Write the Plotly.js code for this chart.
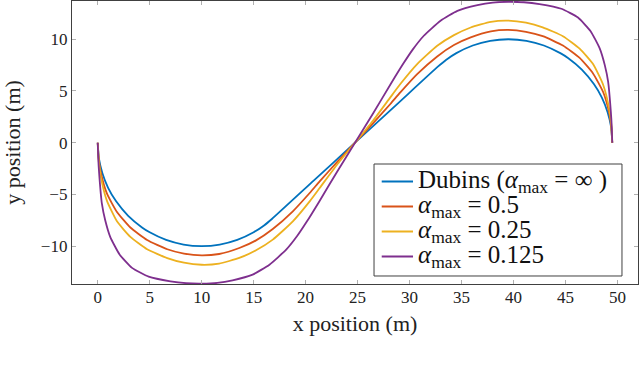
<!DOCTYPE html>
<html>
<head>
<meta charset="utf-8">
<script src="https://cdn.plot.ly/plotly-3.0.1.min.js"></script>
<style>
  html, body { margin: 0; padding: 0; background: #fff; }
  #chart { width: 640px; height: 365px; }
</style>
</head>
<body>
<div id="chart"></div>
<script>
// Path coordinates (metres)
const dubinsX = [0, 0.11, 0.45, 1.0, 1.77, 2.93, 4.26, 5.0, 6.58, 8.26, 10, 11.74, 13.42, 15.0, 16.0, 16.78, 20.8, 24.75,
    28.7, 32.72, 33.5, 34.5, 36.08, 37.76, 39.5, 41.24, 42.92, 44.5, 45.24, 46.57, 47.73, 48.5, 49.05, 49.39, 49.5];
const dubinsY = [0, -1.5, -2.95, -4.36, -5.67, -7.07, -8.19, -8.66, -9.4, -9.85, -10, -9.85, -9.4, -8.66, -8.0, -7.35, -3.64, 0,
    3.64, 7.35, 8.0, 8.66, 9.4, 9.85, 10, 9.85, 9.4, 8.66, 8.19, 7.07, 5.67, 4.36, 2.95, 1.5, 0];

const alpha05X = [0, 0.1, 0.3, 0.88, 1.85, 3.14, 4.75, 6.69, 8.3, 10.0, 11.68, 13.62, 15.23, 16.84, 18.77, 20.39, 21.35, 23.0, 24.75,
    26.5, 28.15, 29.11, 30.73, 32.66, 34.27, 35.88, 37.82, 39.5, 41.2, 42.81, 44.75, 46.36, 47.65, 48.62, 49.2, 49.4, 49.5];
const alpha05Y = [0, -1.6, -2.9, -4.9, -6.7, -8.2, -9.4, -10.3, -10.72, -10.9, -10.76, -10.18, -9.44, -8.34, -6.63, -4.86, -3.74, -1.9, 0,
    1.9, 3.74, 4.86, 6.63, 8.34, 9.44, 10.18, 10.76, 10.9, 10.72, 10.3, 9.4, 8.2, 6.7, 4.9, 2.9, 1.6, 0];

const alpha025X = [0, 0.1, 0.3, 0.88, 1.85, 3.14, 4.75, 6.69, 8.3, 10.0, 11.68, 13.62, 15.23, 16.84, 18.77, 20.39, 21.35, 23.0, 24.75,
    26.5, 28.15, 29.11, 30.73, 32.66, 34.27, 35.88, 37.82, 39.5, 41.2, 42.81, 44.75, 46.36, 47.65, 48.62, 49.2, 49.4, 49.5];
const alpha025Y = [0, -1.8, -3.3, -5.6, -7.6, -9.1, -10.3, -11.15, -11.6, -11.8, -11.69, -11.14, -10.4, -9.37, -7.6, -5.67, -4.38, -2.15, 0,
    2.15, 4.38, 5.67, 7.6, 9.37, 10.4, 11.14, 11.69, 11.8, 11.6, 11.15, 10.3, 9.1, 7.6, 5.6, 3.3, 1.8, 0];

const alpha0125X = [0, 0.05, 0.14, 0.4, 0.72, 1.2, 2.1, 3.3, 4.9, 7.0, 8.5, 10.0, 11.5, 12.97, 14.9, 16.52, 18.13, 19.2, 20.1, 21.3, 23.0, 24.75,
    26.5, 28.2, 29.4, 30.3, 31.37, 32.98, 34.6, 36.53, 38.0, 39.5, 41.0, 42.5, 44.6, 46.2, 47.4, 48.3, 48.78, 49.1, 49.36, 49.45, 49.5];
const alpha0125Y = [0, -1.5, -3.0, -5.9, -7.5, -9.1, -10.8, -12.1, -12.95, -13.4, -13.58, -13.62, -13.55, -13.3, -12.75, -11.79, -10.34, -9.0, -7.65, -5.7, -2.85, 0,
    2.85, 5.7, 7.65, 9.0, 10.34, 11.79, 12.75, 13.3, 13.55, 13.62, 13.58, 13.4, 12.95, 12.1, 10.8, 9.1, 7.5, 5.9, 3.0, 1.5, 0];

const seriesNames = [
    'Dubins (<i>α</i><sub>max</sub> = ∞ )',
    '<i>α</i><sub>max</sub> = 0.5',
    '<i>α</i><sub>max</sub> = 0.25',
    '<i>α</i><sub>max</sub> = 0.125'
];
const seriesColors = ['#0072BD', '#D95319', '#EDB120', '#7E2F8E'];

const xs = [dubinsX, alpha05X, alpha025X, alpha0125X];
const ys = [dubinsY, alpha05Y, alpha025Y, alpha0125Y];

const traces = xs.map((x, i) => ({
    x: x,
    y: ys[i],
    name: seriesNames[i],
    type: 'scatter',
    mode: 'lines',
    showlegend: false,
    line: { color: seriesColors[i], width: 1.8, shape: 'spline', smoothing: 0.5 }
}));

const serif = 'Liberation Serif';

// Legend box, drawn by hand so row spacing matches the pgfplots look
// (paper coords of the plot area)
const legBox = { x0: 0.5336, x1: 0.9717, y0: 0.0283, y1: 0.424 };
const legRowY = [0.3622, 0.2739, 0.1855, 0.0972];
const legLineX = [0.5472, 0.6025];
const legTextX = 0.6078;

const shapes = [{
    type: 'rect', xref: 'paper', yref: 'paper',
    x0: legBox.x0, x1: legBox.x1, y0: legBox.y0, y1: legBox.y1,
    fillcolor: '#fff', line: { color: '#404040', width: 1 }, layer: 'above'
}];
const annotations = [];
seriesNames.forEach((name, i) => {
    shapes.push({
        type: 'line', xref: 'paper', yref: 'paper',
        x0: legLineX[0], x1: legLineX[1], y0: legRowY[i], y1: legRowY[i],
        line: { color: seriesColors[i], width: 1.8 }, layer: 'above'
    });
    annotations.push({
        xref: 'paper', yref: 'paper',
        x: legTextX, y: legRowY[i],
        xanchor: 'left', yanchor: 'middle',
        text: name, showarrow: false,
        font: { family: serif, size: 25, color: '#111' }
    });
});

const axisCommon = {
    showgrid: false,
    zeroline: false,
    showline: true,
    linecolor: '#404040',
    linewidth: 1.2,
    mirror: 'ticks',
    ticks: 'inside',
    ticklen: 4,
    tickwidth: 1,
    tickcolor: '#b0b0b0',
    tickfont: { family: serif, size: 17, color: '#222' }
};

const layout = {
    width: 640,
    height: 365,
    margin: { l: 72, r: 2, t: 1, b: 81 },
    paper_bgcolor: '#fff',
    plot_bgcolor: '#fff',
    showlegend: false,
    xaxis: Object.assign({}, axisCommon, {
        range: [-2.475, 51.975],
        tick0: 0,
        dtick: 5,
        ticklabelstandoff: -3,
        title: { text: 'x position (m)', font: { family: serif, size: 22, color: '#222' }, standoff: 10 }
    }),
    yaxis: Object.assign({}, axisCommon, {
        range: [-13.66, 13.7],
        tick0: 0,
        dtick: 5,
        ticklabelstandoff: 0,
        title: { text: 'y position (m)', font: { family: serif, size: 22, color: '#222' }, standoff: 16 }
    }),
    shapes: shapes,
    annotations: annotations
};

Plotly.newPlot('chart', traces, layout, { displayModeBar: false, staticPlot: true });
</script>
</body>
</html>
